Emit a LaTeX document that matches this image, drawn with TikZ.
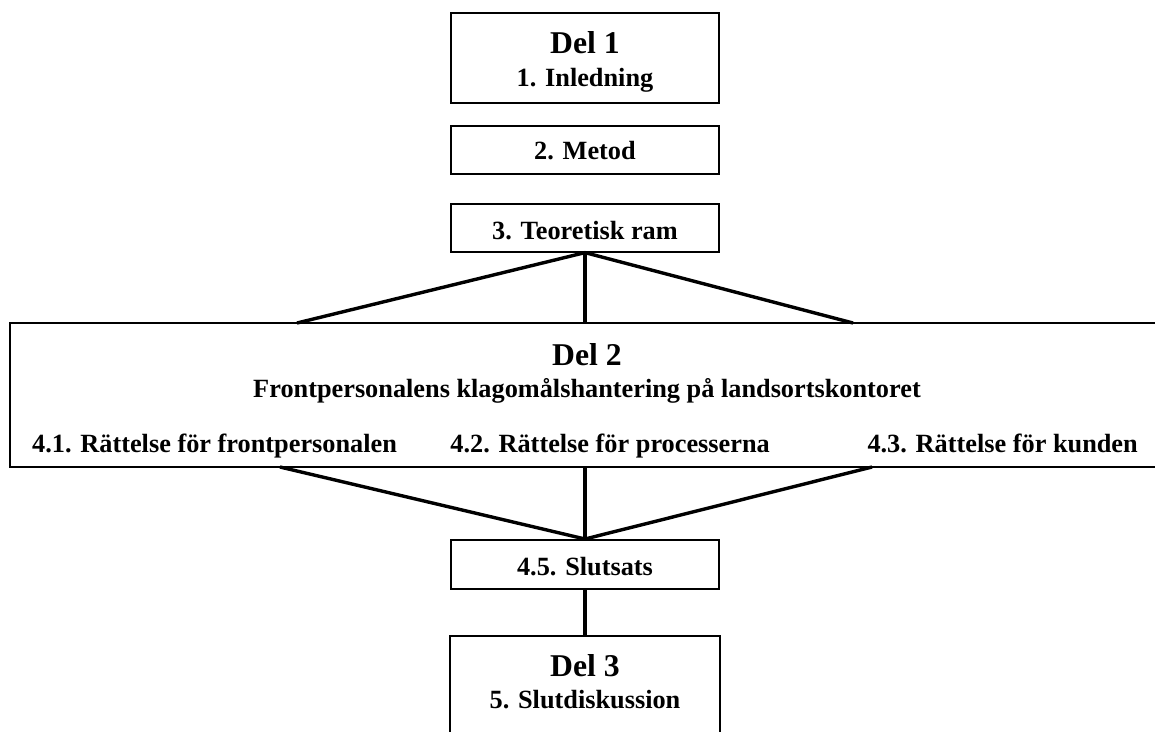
\documentclass[tikz,border=0pt]{standalone}
\usepackage{fontspec}
\setmainfont{Liberation Serif}
\begin{document}
\begin{tikzpicture}[x=1pt,y=-1pt,
  box/.style={draw=black,line width=1.6pt,minimum width=268pt,inner sep=0pt,anchor=north},
  edge/.style={line width=1.6pt,black},
  conn/.style={line width=3.4pt,black},
  sub/.style={font=\fontsize{26.3}{30}\selectfont\bfseries,inner sep=0pt,anchor=base},
  head/.style={font=\fontsize{31.7}{36}\selectfont\bfseries,inner sep=0pt,anchor=base}]
\useasboundingbox (0,0) rectangle (1155,731);
% Part 1
\node[box,minimum height=90pt] (del1) at (585,12) {};
\node[head] (del1h) at (585,53) {Del 1};
\node[sub] (del1s) at (585,86) {1. Inledning};
\node[box,minimum height=48pt] (metod) at (585,125) {};
\node[sub] (metodt) at (585,159) {2. Metod};
\node[box,minimum height=48pt] (teor) at (585,203) {};
\node[sub] (teort) at (585,239) {3. Teoretisk ram};
% Part 2 big box (right side runs off the picture)
\draw[edge] (1156,323) -- (10,323) -- (10,467) -- (1156,467);
\coordinate (t1) at (297,323);
\coordinate (t2) at (585,323);
\coordinate (t3) at (853,323);
\coordinate (b1) at (280,467);
\coordinate (b2) at (585,467);
\coordinate (b3) at (872,467);
\node[head] (del2h) at (587,365) {Del 2};
\node[sub] (del2s) at (587,397) {Frontpersonalens klagomålshantering på landsortskontoret};
\node[sub,anchor=base west] (p41) at (32,452) {4.1. Rättelse för frontpersonalen};
\node[sub,anchor=base east] (p42) at (770,452) {4.2. Rättelse för processerna};
\node[sub,anchor=base east] (p43) at (1138,452) {4.3. Rättelse för kunden};
% Part 3
\node[box,minimum height=49pt] (slut) at (585,539) {};
\node[sub] (slutt) at (585,575) {4.5. Slutsats};
\coordinate (d3top) at (585,636);
\draw[edge] (450,733) -- (450,636) -- (720,636) -- (720,733);
\node[head] (del3h) at (585,676) {Del 3};
\node[sub] (del3s) at (585,708) {5. Slutdiskussion};
% connectors
\draw[conn] (teor.south) -- (t1);
\draw[conn] (teor.south) -- (t2);
\draw[conn] (teor.south) -- (t3);
\draw[conn] (b1) -- (slut.north);
\draw[conn] (b2) -- (slut.north);
\draw[conn] (b3) -- (slut.north);
\draw[conn] (slut.south) -- (d3top);
\end{tikzpicture}
\end{document}
